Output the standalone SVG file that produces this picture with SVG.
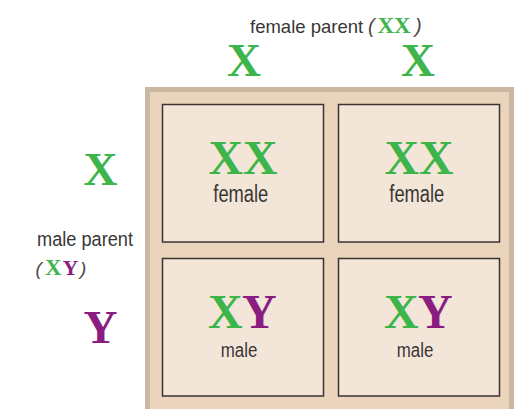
<svg xmlns="http://www.w3.org/2000/svg" width="517" height="409" viewBox="0 0 517 409">
<style>
.sans{font-family:"Liberation Sans",Arial,sans-serif;fill:#3a3636}
.par{font-family:"Liberation Sans",Arial,sans-serif;fill:#4a4646;font-style:italic}
.ser{font-family:"Liberation Serif","Times New Roman",serif;font-weight:bold}
.g{fill:#3db54a}
.p{fill:#8a1e80}
.cell{fill:#f3e6d9;stroke:#3a3330;stroke-width:1.5}
</style>
<rect width="517" height="409" fill="#ffffff"/>
<g id="frame">
<rect x="145" y="87" width="369" height="330" fill="#c9b7a1"/>
<rect x="150" y="92" width="359" height="330" fill="#ebd4bc"/>
</g>
<g id="female-parent">
<text y="33.3"><tspan class="sans" x="250" font-size="18.5">female parent</tspan><tspan class="par" x="368" font-size="20">(</tspan><tspan class="ser g" x="377.5" font-size="23">XX</tspan><tspan class="par" x="415" font-size="20">)</tspan></text>
</g>
<g id="female-X1"><text class="ser g" x="244" y="76" font-size="47" text-anchor="middle">X</text></g>
<g id="female-X2"><text class="ser g" x="418" y="76" font-size="47" text-anchor="middle">X</text></g>
<g id="male-parent">
<text class="sans" x="37" y="245.7" font-size="20" textLength="96" lengthAdjust="spacingAndGlyphs">male parent</text>
<text y="275"><tspan class="par" x="35.5" font-size="19">(</tspan><tspan class="ser g" x="45" font-size="23">X</tspan><tspan class="ser p" x="62.5" font-size="22">Y</tspan><tspan class="par" x="80" font-size="19">)</tspan></text>
</g>
<g id="male-X"><text class="ser g" x="100.5" y="185" font-size="47" text-anchor="middle">X</text></g>
<g id="male-Y"><text class="ser p" x="100.5" y="343" font-size="47" text-anchor="middle">Y</text></g>
<g id="cell-XX-1">
<rect class="cell" x="162.5" y="104.5" width="161" height="137.5"/>
<text class="ser g" x="208.5" y="174" font-size="48" textLength="69" lengthAdjust="spacingAndGlyphs">XX</text>
<text class="sans" x="213.3" y="202.3" font-size="23" textLength="55" lengthAdjust="spacingAndGlyphs">female</text>
</g>
<g id="cell-XX-2">
<rect class="cell" x="338.5" y="104.5" width="161" height="137.5"/>
<text class="ser g" x="384.5" y="174" font-size="48" textLength="69" lengthAdjust="spacingAndGlyphs">XX</text>
<text class="sans" x="389.3" y="202.3" font-size="23" textLength="55" lengthAdjust="spacingAndGlyphs">female</text>
</g>
<g id="cell-XY-1">
<rect class="cell" x="162.5" y="258.5" width="161" height="137.5"/>
<text class="ser" font-size="48" y="327.7"><tspan class="g" x="208">X</tspan><tspan class="p" x="242">Y</tspan></text>
<text class="sans" x="220.7" y="356.7" font-size="20" textLength="36.6" lengthAdjust="spacingAndGlyphs">male</text>
</g>
<g id="cell-XY-2">
<rect class="cell" x="338.5" y="258.5" width="161" height="137.5"/>
<text class="ser" font-size="48" y="327.7"><tspan class="g" x="384">X</tspan><tspan class="p" x="418">Y</tspan></text>
<text class="sans" x="396.7" y="356.7" font-size="20" textLength="36.6" lengthAdjust="spacingAndGlyphs">male</text>
</g>
<g id="connectors"/>
</svg>
